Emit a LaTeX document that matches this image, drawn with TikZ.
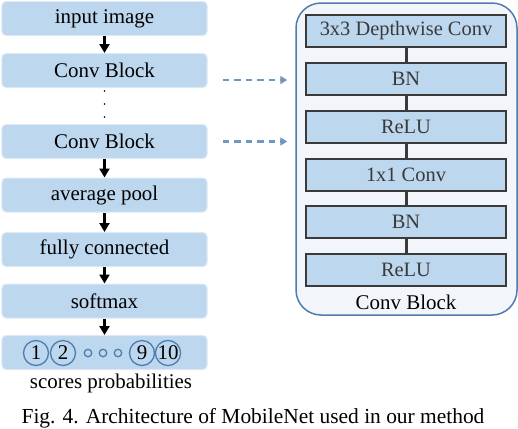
\documentclass[tikz,border=0pt]{standalone}
\usepackage{fontspec}
\setmainfont{Liberation Serif}
\usetikzlibrary{arrows.meta}
\definecolor{boxblue}{HTML}{BDD7EE}
\definecolor{boxrim}{HTML}{DDEAF6}
\definecolor{panelfill}{HTML}{F2F6FB}
\definecolor{panelrim}{HTML}{4D7DAF}
\definecolor{dashblue}{HTML}{6E97C3}
\definecolor{inkgray}{HTML}{3A3A3A}
\tikzset{
  leftbox/.style={fill=boxblue, draw=boxrim, line width=1bp, rounded corners=4bp,
    minimum width=205bp, minimum height=34bp, inner sep=0pt},
  innerbox/.style={fill=boxblue, draw=inkgray, line width=1.5bp,
    minimum width=200bp, minimum height=32bp, inner sep=0pt, text=inkgray,
    font=\fontsize{20.5}{23}\selectfont},
  flowarrow/.style={line width=2.8bp, -{Triangle[length=9bp,width=10bp]}},
  dasharrow/.style={dashblue, line width=2.5bp, dash pattern=on 6.5bp off 5bp,
    -{Triangle[length=7bp,width=8bp]}},
  bigcircle/.style={circle, draw=panelrim, line width=1.3bp, minimum size=25bp,
    inner sep=0pt, font=\fontsize{21}{23}\selectfont},
  smallcircle/.style={circle, draw=panelrim, line width=1.3bp, minimum size=7.5bp, inner sep=0pt}
}
\begin{document}
\begin{tikzpicture}[x=1bp, y=-1bp, every node/.style={font=\fontsize{21}{24}\selectfont}]
  \useasboundingbox (0,0) rectangle (518,428);

  % Left column
  \foreach \name/\y/\lab in {inimg/18.5/input image, cba/70.5/Conv Block, cbb/141.5/Conv Block,
      avgpool/195/average pool, fullconn/249.5/fully connected, softmax/301/softmax, scores/352.5/{}} {
     \node[leftbox] (\name) at (104.5,\y) {\lab};
  }
  \foreach \a/\b in {inimg/cba, cbb/avgpool, avgpool/fullconn, fullconn/softmax, softmax/scores} {
     \draw[flowarrow] (\a.south) -- (\b.north);
  }
  \foreach \y in {91,104,117} {
     \fill (104.5,\y) circle (0.8bp);
  }

  % Scores
  \foreach \name/\x/\lab in {sa/36/1, sb/63/2, si/142/9, sj/168/10} {
     \node[bigcircle] (\name) at (\x,353) {\lab};
  }
  \foreach \name/\x in {da/88, db/103, dc/118} {
     \node[smallcircle] (\name) at (\x,353) {};
  }
  \node (scorelab) at (111,383) {scores probabilities};

  % Conv Block detail
  \node[fill=panelfill, draw=panelrim, line width=1.5bp, rounded corners=25bp,
    minimum width=221bp, minimum height=312bp] (block) at (406.5,159) {};
  \foreach \name/\y/\lab in {dw/31/3x3 Depthwise Conv, bna/79/BN, relua/127/ReLU,
      pw/175/1x1 Conv, bnb/222/BN, relub/270/ReLU} {
     \node[innerbox] (\name) at (406,\y) {\lab};
  }
  \foreach \a/\b in {dw/bna, bna/relua, relua/pw, pw/bnb, bnb/relub} {
     \draw[inkgray, line width=3bp] (\a.south) -- (\b.north);
  }
  \node (blocklab) at (406,302) {Conv Block};

  % Links to the detail
  \draw[dasharrow, shorten >=8bp] ([xshift=15bp,yshift=-9.5bp]cba.east) -- ([yshift=-9.5bp]cba.east -| block.west);
  \draw[dasharrow, shorten >=8bp] ([xshift=15bp]cbb.east) -- (cbb.east -| block.west);

  \node[font=\fontsize{21.5}{24}\selectfont] (caption) at (253,418.5) {Fig. 4. Architecture of MobileNet used in our method};
\end{tikzpicture}
\end{document}
